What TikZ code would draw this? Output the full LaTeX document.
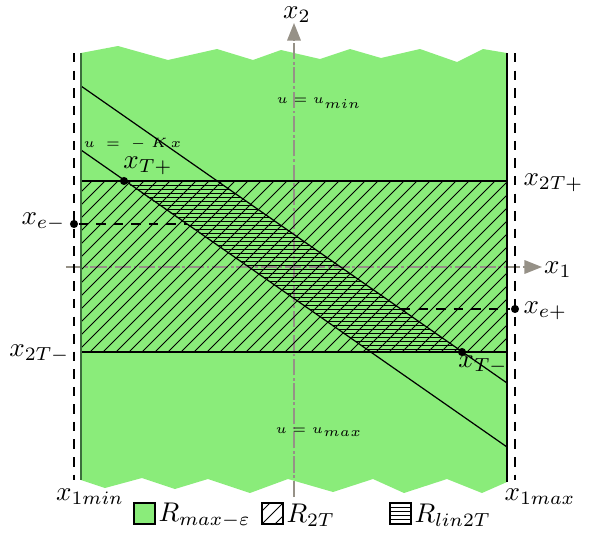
\documentclass[tikz,border=0pt]{standalone}
\usetikzlibrary{arrows.meta}
\definecolor{fillgreen}{RGB}{138,236,122}
\definecolor{axisgray}{RGB}{150,145,135}
\definecolor{edgegreen}{RGB}{60,110,60}
\begin{document}
\begin{tikzpicture}[x=0.37pt,y=-0.37pt,
  hatch/.style={line width=0.35pt},
  vdash/.style={dash pattern=on 3.5pt off 3pt, line width=0.4pt},
  hdash/.style={dash pattern=on 3.5pt off 3pt, line width=0.4pt},
  axis/.style={axisgray, line width=0.6pt, dash pattern=on 6pt off 1pt on 1pt off 1pt, -{Triangle[length=6.5pt,width=5pt]}},
  dot/.style={circle, fill=black, inner sep=0pt, minimum size=3pt},
  lbl/.style={inner sep=0pt},
  tinylbl/.style={font=\tiny, inner sep=0pt}]
\useasboundingbox (0,0) rectangle (594,534);

% green region
\fill[fillgreen] (81,53) -- (118,46) -- (168,60) -- (217,49) -- (253,60) -- (281,50) -- (320,59) -- (350,49) -- (381,58) -- (420,49) -- (457,62) -- (483,49) -- (507,53)
  -- (507,482) -- (482,493) -- (447,479) -- (404,493) -- (373,479) -- (333,492) -- (288,479) -- (250,493) -- (208,479) -- (175,489) -- (142,478) -- (105,488) -- (81,480) -- cycle;

% axes
\coordinate (x1s) at (66,267);
\coordinate (x1e) at (542,267);
\coordinate (x2s) at (294,497);
\coordinate (x2e) at (294,23);
\draw[axis] (x1s) -- (x1e);
\draw[axis] (x2s) -- (x2e);
\node[lbl] (x1lab) at (558,270) {$x_1$};
\node[lbl] (x2lab) at (297,15) {$x_2$};

% band corners
\coordinate (BL) at (81,352);
\coordinate (TR) at (507,181);
% diagonal hatch in band
\begin{scope}
  \clip (81,181) rectangle (507,352);
  \foreach \c in {-92,-79,...,520} {
    \draw[hatch] (\c,352) -- ++(171,-171);
  }
\end{scope}
% horizontal hatch in parallelogram
\coordinate (P1) at (124,181);
\coordinate (P2) at (217,181);
\coordinate (P3) at (462,352);
\coordinate (P4) at (371,352);
\begin{scope}
  \clip (P1) -- (P2) -- (P3) -- (P4) -- cycle;
  \foreach \y in {181,185,...,353} {
    \draw[hatch] (100,\y) -- (480,\y);
  }
\end{scope}
\draw[line width=0.45pt] (BL) rectangle (TR);

% u=-Kx lines
\coordinate (K1s) at (81,86);
\coordinate (K1e) at (507,383);
\coordinate (K2s) at (81,150);
\coordinate (K2e) at (507,447);
\draw[line width=0.45pt] (K1s) -- (K1e);
\draw[line width=0.45pt] (K2s) -- (K2e);

% edges
\coordinate (Lt) at (81,53);
\coordinate (Lb) at (81,480);
\coordinate (Rt) at (507,53);
\coordinate (Rb) at (507,482);
\draw[edgegreen, line width=0.6pt] (Lt) -- (Lb);
\draw[black, line width=0.5pt] (Rt) -- (Rb);

% dashed vertical limits
\coordinate (DLt) at (74,53);
\coordinate (DLb) at (74,480);
\coordinate (DRt) at (515,53);
\coordinate (DRb) at (515,480);
\draw[vdash] (DLt) -- (DLb);
\draw[vdash] (DRt) -- (DRb);

% equilibrium points
\node[dot] (em) at (74,224) {};
\node[dot] (ep) at (515,309) {};
\coordinate (emEnd) at (187,224);
\coordinate (epEnd) at (401,309);
\draw[hdash] (em) -- (emEnd);
\draw[hdash] (epEnd) -- (ep);
\node[lbl, anchor=east] (emlab) at (66,222) {$x_{e-}$};
\node[lbl, anchor=west] (eplab) at (523,311) {$x_{e+}$};

% T points
\node[dot] (tp) at (P1) {};
\node[dot] (tm) at (P3) {};
\node[lbl] (tplab) at (148,166) {$x_{T+}$};
\node[lbl] (tmlab) at (483,365) {$x_{T-}$};

% band labels
\node[lbl, anchor=west] (b2p) at (523,183) {$x_{2T+}$};
\node[lbl, anchor=east] (b2m) at (70,354) {$x_{2T-}$};

% x1 limits labels
\node[lbl] (x1min) at (90,497) {$x_{1min}$};
\node[lbl] (x1max) at (540,497) {$x_{1max}$};

% control labels
\node[tinylbl] (umin) at (319,103) {$u=u_{min}$};
\node[tinylbl] (umax) at (319,432) {$u=u_{max}$};
\node[tinylbl, anchor=west] (ukx) at (83,144) {$u\;=\;-\;K\,x$};

% legend
\fill[fillgreen] (134,503) rectangle (155,524);
\draw[line width=0.45pt] (134,503) rectangle (155,524);
\node[lbl, anchor=west] (leg1) at (158,515) {$R_{max-\varepsilon}$};
\begin{scope}
  \clip (262,503) rectangle (283,524);
  \foreach \c in {249,262,275} {
    \draw[hatch] (\c,524) -- ++(21,-21);
  }
\end{scope}
\draw[line width=0.45pt] (262,503) rectangle (283,524);
\node[lbl, anchor=west] (leg2) at (286,515) {$R_{2T}$};
\begin{scope}
  \clip (390,503) rectangle (411,524);
  \foreach \y in {507,511,...,523} {
    \draw[hatch] (390,\y) -- (411,\y);
  }
\end{scope}
\draw[line width=0.45pt] (390,503) rectangle (411,524);
\node[lbl, anchor=west] (leg3) at (414,515) {$R_{lin2T}$};
\end{tikzpicture}
\end{document}
